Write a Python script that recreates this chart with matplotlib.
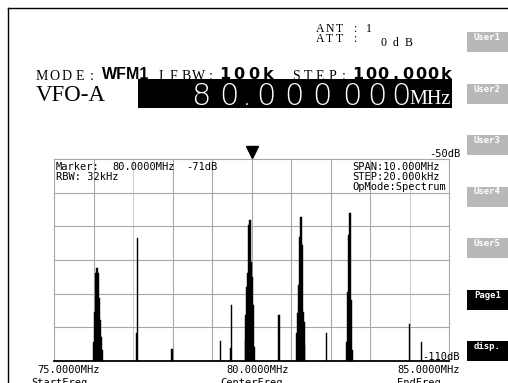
import matplotlib
matplotlib.use("Agg")
import matplotlib.pyplot as plt
from matplotlib.patches import Rectangle

# ---------------- data ----------------
freq_start_mhz = 75.0
freq_end_mhz = 85.0
level_top_db = -50
level_bottom_db = -110
marker_freq_mhz = 80.0

spec_freq_mhz = [
    76.01, 76.04, 76.06, 76.09, 76.11, 76.14, 76.17, 76.19, 76.22,
    77.09, 77.12,
    77.99,
    79.22,
    79.47, 79.50,
    79.84, 79.86, 79.89, 79.91, 79.94, 79.96, 79.99, 80.01, 80.04, 80.06,
    80.70,
    81.15, 81.18, 81.20, 81.23, 81.25, 81.28, 81.30, 81.33, 81.35,
    81.90,
    82.42, 82.44, 82.47, 82.49, 82.52, 82.54,
    84.00,
    84.31,
]
spec_level_db = [
    -104.4, -95.4, -83.9, -82.4, -83.9, -91.3, -97.8, -102.9, -106.7,
    -101.7, -73.5,
    -106.4,
    -104.0,
    -106.0, -93.4,
    -103.8, -96.3, -88.0, -83.9, -69.6, -68.1, -80.6, -85.0, -93.4, -105.8,
    -96.3,
    -101.7, -95.7, -87.4, -73.2, -67.2, -75.5, -95.4, -98.4, -105.2,
    -101.7,
    -104.4, -89.5, -72.6, -66.0, -91.9, -106.7,
    -99.0,
    -104.4,
]

button_labels = ["User1", "User2", "User3", "User4", "User5", "Page1", "disp."]
button_dark = [False, False, False, False, False, True, True]

# ---------------- figure ----------------
W, H = 508, 383
fig = plt.figure(figsize=(W / 100, H / 100), dpi=100)
fig.patch.set_facecolor("white")

MONO = "DejaVu Sans Mono"
SERIF = "Liberation Serif"
BOLD = "DejaVu Sans"

# spectrum axes (pixel box: x 54..449, y 159..361)
L, R, T, B = 54, 449, 159, 361
ax = fig.add_axes([L / W, (H - B) / H, (R - L) / W, (B - T) / H])
ax.set_xlim(freq_start_mhz, freq_end_mhz)
ax.set_ylim(level_bottom_db, level_top_db)
ax.set_facecolor("white")
for f in range(76, 85):
    c = "#d0d0d0" if f in (77, 84) else "#a8a8a8"
    ax.axvline(f, color=c, lw=0.8, zorder=1)
for lv in range(-100, -50, 10):
    ax.axhline(lv, color="#a8a8a8", lw=0.8, zorder=1)
ax.bar(spec_freq_mhz, [v - level_bottom_db for v in spec_level_db],
       bottom=level_bottom_db, width=0.034, color="black",
       edgecolor="black", lw=0.3, zorder=3)
ax.set_xticks([]); ax.set_yticks([])
for s in ("left", "top", "right"):
    ax.spines[s].set_color("#a8a8a8")
    ax.spines[s].set_linewidth(0.8)
ax.spines["bottom"].set_color("black")
ax.spines["bottom"].set_linewidth(1.3)
# marker triangle
ax.plot([marker_freq_mhz], [level_top_db + 0.035 * (level_top_db - level_bottom_db)],
        marker="v", color="black", markersize=9, clip_on=False, zorder=5)

# overlay axes in pixel coordinates
ov = fig.add_axes([0, 0, 1, 1], zorder=10)
ov.set_xlim(0, W); ov.set_ylim(H, 0); ov.axis("off")
ov.patch.set_alpha(0)

# frame
ov.plot([8, 8], [8, H], color="black", lw=1.0)
ov.plot([8, W], [8, 8], color="black", lw=1.0)


def spaced(x0, y, s, pitch, **kw):
    for i, ch in enumerate(s):
        ov.text(x0 + pitch * (i + 0.5), y, ch, ha="center", va="baseline", **kw)


def at_centers(xs, y, s, **kw):
    for x, ch in zip(xs, s):
        ov.text(x, y, ch, ha="center", va="baseline", **kw)


# ANT / ATT
sk = dict(family=SERIF, fontsize=8.5)
spaced(315, 32, "ANT", 9.6, **sk)
at_centers([355, 369], 32, ":1", **sk)
spaced(315, 42.5, "ATT", 9.6, **sk)
at_centers([355], 42.5, ":", **sk)
spaced(377, 45.5, "0dB", 12.5, **sk)

# MODE line
hk = dict(family=SERIF, fontsize=10)
bk = dict(family=BOLD, fontsize=11.5, fontweight="bold")
spaced(36, 80, "MODE:", 12.4, **hk)
ov.text(102, 79, "WFM1", ha="left", va="baseline", family="Liberation Sans",
        fontsize=11.5, fontweight="bold")
spaced(155, 80, "IFBW:", 12.4, **hk)
spaced(218, 79, "100k", 14.2, **bk)
spaced(290, 80, "STEP:", 12, **hk)
spaced(352, 79, "100.000k", 12.5, **bk)

# VFO line
ov.text(36, 101, "VFO-A", ha="left", va="baseline", family=SERIF, fontsize=16.5)
ov.add_patch(Rectangle((138, 79), 314, 29, color="black", lw=0))
at_centers([201, 229, 247, 266, 294, 322, 352, 377, 401], 105, "80.000000",
           family="DejaVu Sans", fontsize=22, color="white", fontweight="light")
ov.text(451, 104.5, "MHz", ha="right", va="baseline", family=SERIF,
        fontsize=14.5, color="white")

# in-plot texts
kw = dict(family=MONO, fontsize=7.5, va="baseline")
ov.text(56, 169.5, "Marker:", ha="left", **kw)
ov.text(112, 169.5, "80.0000MHz", ha="left", **kw)
ov.text(186, 169.5, "-71dB", ha="left", **kw)
ov.text(56, 180, "RBW: 32kHz", ha="left", **kw)
ov.text(352, 169.5, "SPAN:10.000MHz", ha="left", **kw)
ov.text(352, 180, "STEP:20.000kHz", ha="left", **kw)
ov.text(352, 190.5, "OpMode:Spectrum", ha="left", **kw)
ov.text(460, 157, "-50dB", ha="right", **kw)
ov.text(460, 360, "-110dB", ha="right", **kw)
ov.text(37, 373, "75.0000MHz", ha="left", **kw)
ov.text(226, 373, "80.0000MHz", ha="left", **kw)
ov.text(460, 373, "85.0000MHz", ha="right", **kw)
ov.text(31, 386, "StartFreq", ha="left", **kw)
ov.text(220, 386, "CenterFreq", ha="left", **kw)
ov.text(397, 386, "EndFreq", ha="left", **kw)

# side buttons
for i, (lab, dark) in enumerate(zip(button_labels, button_dark)):
    y0 = 32 + i * 51.5
    ov.add_patch(Rectangle((467, y0), 45, 20, color="black" if dark else "#b8b8b8", lw=0))
    ov.text(474, y0 + 8, lab, ha="left", va="baseline", family=MONO,
            fontsize=6.5, fontweight="bold", color="white")

fig.savefig("out.png", dpi=100, facecolor="white")
